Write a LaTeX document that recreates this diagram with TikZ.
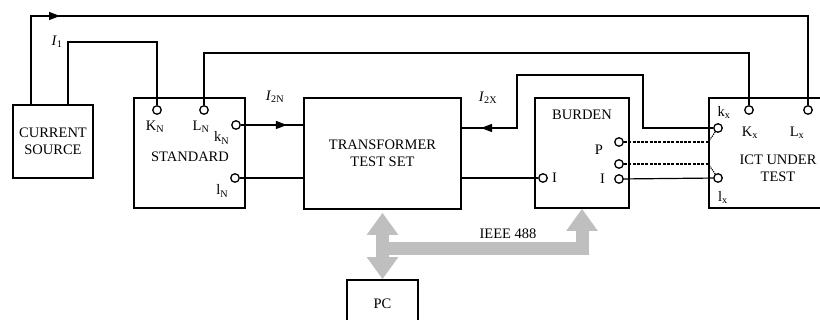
\documentclass[tikz,border=0pt]{standalone}
\usepackage{fontspec}
\setmainfont{Liberation Serif}
\usetikzlibrary{arrows.meta}

\begin{document}
\begin{tikzpicture}[x=1pt,y=-1pt,font=\fontsize{14.5}{17}\selectfont]
			\tikzstyle{box}=[draw,line width=1.6pt,inner sep=0pt]
			\tikzstyle{term}=[circle,draw,line width=1.3pt,fill=white,inner sep=0pt,minimum size=8.5pt]
			\tikzstyle{lbl}=[inner sep=1pt,label distance=3pt]
			\tikzstyle{wire}=[line width=1.2pt]
			\tikzstyle{link}=[line width=1.7pt,dash pattern=on 3pt off 1.3pt]
			\tikzstyle{tip}=[-{Triangle[length=11pt,width=8pt]}]
			\tikzstyle{bus}=[draw=gray!50,line width=13pt,>={Triangle[length=22pt,width=30pt]}]
			
			\useasboundingbox (0,0) rectangle (820,320);
			\clip (0,0) rectangle (820,320);
			
			\node [box,minimum width=80pt,minimum height=73pt,align=center] (src) at (53,141.5) {CURRENT\\SOURCE};
			\node [box,minimum width=111pt,minimum height=110pt] (std) at (189.5,153) {};
			\node [box,minimum width=157pt,minimum height=111pt,align=center] (tts) at (382.5,153.5) {TRANSFORMER\\TEST SET};
			\node [box,minimum width=94pt,minimum height=110pt] (bur) at (582,153) {};
			\node [box,minimum width=140pt,minimum height=110pt] (ict) at (779,153) {};
			\node [box,minimum width=71pt,minimum height=60pt] (pc) at (382.5,310) {};
			
			\node (stdl) at (190,157) {STANDARD};
			\node (burl) at (582,115) {BURDEN};
			\node [align=center] (ictl) at (778,168) {ICT UNDER\\TEST};
			\node (pcl) at (382.5,304) {PC};
			\node (ieee) at (508,234) {IEEE 488};
			\node (i1) at (57,42) {\textit{I}\textsubscript{1}};
			\node (i2n) at (275,97) {\textit{I}\textsubscript{2N}};
			\node (i2x) at (488,98) {\textit{I}\textsubscript{2X}};
			
			\node [term,label={[lbl,xshift=-2pt,label distance=5pt]below:K\textsubscript{N}}] (KN) at (157,110) {};
			\node [term,label={[lbl,xshift=-3pt,label distance=5pt]below:L\textsubscript{N}}] (LN) at (204,110) {};
			\node [term,label={[lbl]below left:k\textsubscript{N}}] (kN) at (236,125) {};
			\node [term,label={[lbl]below left:l\textsubscript{N}}] (lN) at (235,178) {};
			\node [term,label={[lbl]right:I}] (buI) at (543,178) {};
			\node [term,label={[lbl,label distance=10pt,yshift=-8pt]left:P}] (buP) at (619,142) {};
			\node [term] (buM) at (619,164) {};
			\node [term,label={[lbl,label distance=8pt]left:I}] (buI2) at (619,179) {};
			\node [term,label={[lbl,xshift=6pt]above:k\textsubscript{x}}] (kx) at (718,128) {};
			\node [term,label={[lbl,xshift=1pt,label distance=11pt]below:K\textsubscript{x}}] (Kx) at (749,110) {};
			\node [term,label={[lbl,xshift=-11pt,label distance=11pt]below:L\textsubscript{x}}] (Lx) at (808,110) {};
			\node [term,label={[lbl,xshift=5pt,label distance=7pt]below:l\textsubscript{x}}] (lx) at (718,178) {};
			
			\coordinate (t1) at (31,16);
			\coordinate (t2) at (68,42);
			\coordinate (t3) at (0,53);
			\coordinate (c1) at (643,75);
			\coordinate (c2) at (517,75);
			\coordinate (b1) at (382.5,248.5);
			
			\draw [wire] (t1 |- src.north) -- (t1) -| (Lx.north);
			\draw [wire,tip] (t1) -- ++(29,0);
			\draw [wire] (t2 |- src.north) -- (t2) -| (KN.north);
			\draw [wire] (LN.north) |- (Kx |- t3) -- (Kx.north);
			\draw [wire] (kN) -- (kN -| tts.west);
			\draw [wire,tip] (kN.east) -- ++(46,0);
			\draw [wire] (lN) -- (lN -| tts.west);
			\draw [wire] (tts.east |- buI) -- (buI);
			\draw [wire] (kx) -| (c1) -- (c2) |- (tts.east |- kx);
			\draw [wire,tip] (c2 |- kx) -- ++(-36,0);
			\draw [link] (buP) -- (buP -| ict.west);
			\draw [wire,densely dotted] (buP -| ict.west) -- (kx);
			\draw [link] (buM) -- (buM -| ict.west);
			\draw [wire,densely dotted] (buM -| ict.west) -- (lx);
			\draw [wire] (buI2) -- (lx);
			
			\draw [bus,<->] ([yshift=-3pt]tts.south) -- (pc.north);
			\draw [bus,->] (b1) -| (bur.south);
\end{tikzpicture}
\end{document}
